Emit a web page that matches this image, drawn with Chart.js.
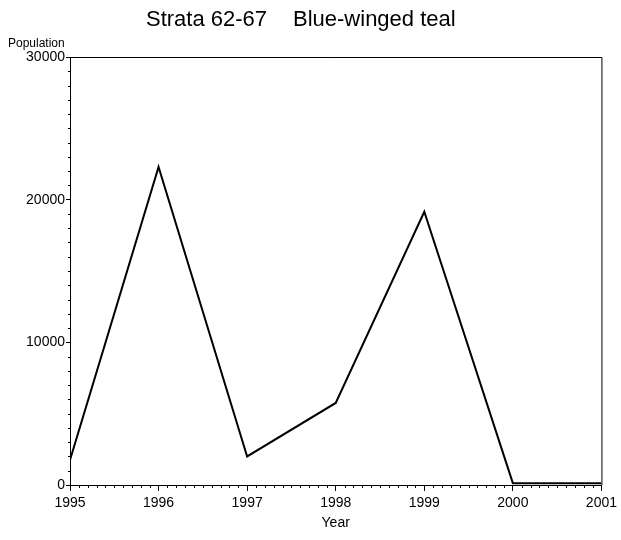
<!DOCTYPE html>
<html>
<head>
<meta charset="utf-8">
<title>Strata 62-67 Blue-winged teal</title>
<script src="https://cdn.jsdelivr.net/npm/chart.js@4/dist/chart.umd.min.js"></script>
<style>
  html, body { margin: 0; padding: 0; background: #ffffff; }
  #wrap { width: 621px; height: 540px; }
</style>
</head>
<body>
<div id="wrap"><canvas id="c" width="621" height="540"></canvas></div>
<script>
// Survey years and estimated population for strata 62-67
const years = [1995, 1996, 1997, 1998, 1999, 2000, 2001];
const population = [1750, 22300, 2000, 5750, 19150, 130, 130];

// Axis ranges and tick spacing
const yearTicks = [1995, 1996, 1997, 1998, 1999, 2000, 2001];
const populationTicks = [0, 10000, 20000, 30000];

const chartTitle = ['Strata 62-67', 'Blue-winged teal'];
const xTitle = 'Year';
const yTitle = 'Population';

const FONT = '"Liberation Sans", Arial, Helvetica, sans-serif';

// Frame, minor ticks and free-standing text
const decorations = {
  id: 'decorations',
  afterDraw(chart) {
    const { ctx, chartArea: a, scales } = chart;
    const x = scales.x, y = scales.y;
    ctx.save();
    ctx.strokeStyle = '#000';
    ctx.lineWidth = 1;

    // top and right edges of the frame
    ctx.beginPath();
    ctx.moveTo(a.left, a.top + 0.5);
    ctx.lineTo(a.right + 0.5, a.top + 0.5);
    ctx.lineTo(a.right + 0.5, a.bottom);
    ctx.stroke();

    // minor ticks on the year axis (tenths of a year)
    ctx.beginPath();
    for (let i = 0; i < yearTicks.length - 1; i++) {
      for (let k = 1; k < 10; k++) {
        const px = Math.round(x.getPixelForValue(yearTicks[i] + k / 10)) + 0.5;
        ctx.moveTo(px, a.bottom);
        ctx.lineTo(px, a.bottom + 3);
      }
    }
    // minor ticks on the population axis (every 1000)
    for (let i = 0; i < populationTicks.length - 1; i++) {
      for (let k = 1; k < 10; k++) {
        const py = Math.round(y.getPixelForValue(populationTicks[i] + k * 1000)) + 0.5;
        ctx.moveTo(a.left, py);
        ctx.lineTo(a.left - 2, py);
      }
    }
    ctx.stroke();

    // text
    ctx.fillStyle = '#000';
    ctx.textBaseline = 'middle';
    ctx.font = '22px ' + FONT;
    ctx.textAlign = 'left';
    ctx.fillText(chartTitle[0], 146, 20);
    ctx.fillText(chartTitle[1], 293, 20);

    ctx.font = '12px ' + FONT;
    ctx.textAlign = 'left';
    ctx.fillText(yTitle, 8, 44);

    ctx.font = '14px ' + FONT;
    ctx.textAlign = 'center';
    ctx.fillText(xTitle, (a.left + a.right) / 2, 523);
    ctx.restore();
  }
};

new Chart(document.getElementById('c'), {
  type: 'line',
  data: {
    datasets: [{
      data: years.map((yr, i) => ({ x: yr, y: population[i] })),
      borderColor: '#000',
      borderWidth: 2,
      pointRadius: 0,
      tension: 0,
      fill: false
    }]
  },
  options: {
    responsive: false,
    devicePixelRatio: 1,
    animation: false,
    layout: { padding: { top: 57, right: 17, left: 0, bottom: 0 } },
    plugins: {
      legend: { display: false },
      title: { display: false },
      tooltip: { enabled: false }
    },
    scales: {
      x: {
        type: 'linear',
        min: yearTicks[0],
        max: yearTicks[yearTicks.length - 1],
        afterFit(s) { s.height = 55; },
        afterBuildTicks(s) { s.ticks = yearTicks.map(v => ({ value: v })); },
        ticks: {
          color: '#000',
          font: { family: FONT, size: 14 },
          padding: 4,
          maxRotation: 0,
          autoSkip: false,
          callback: v => String(v)
        },
        grid: { drawOnChartArea: false, tickLength: 6, color: '#000', tickColor: '#000' },
        border: { display: true, color: '#000', width: 1 }
      },
      y: {
        type: 'linear',
        min: populationTicks[0],
        max: populationTicks[populationTicks.length - 1],
        afterFit(s) { s.width = 70; },
        afterBuildTicks(s) { s.ticks = populationTicks.map(v => ({ value: v })); },
        ticks: {
          color: '#000',
          font: { family: FONT, size: 14 },
          padding: 1,
          callback: v => String(v)
        },
        grid: { drawOnChartArea: false, tickLength: 4, color: '#000', tickColor: '#000' },
        border: { display: true, color: '#000', width: 1 }
      }
    }
  },
  plugins: [decorations]
});
</script>
</body>
</html>
